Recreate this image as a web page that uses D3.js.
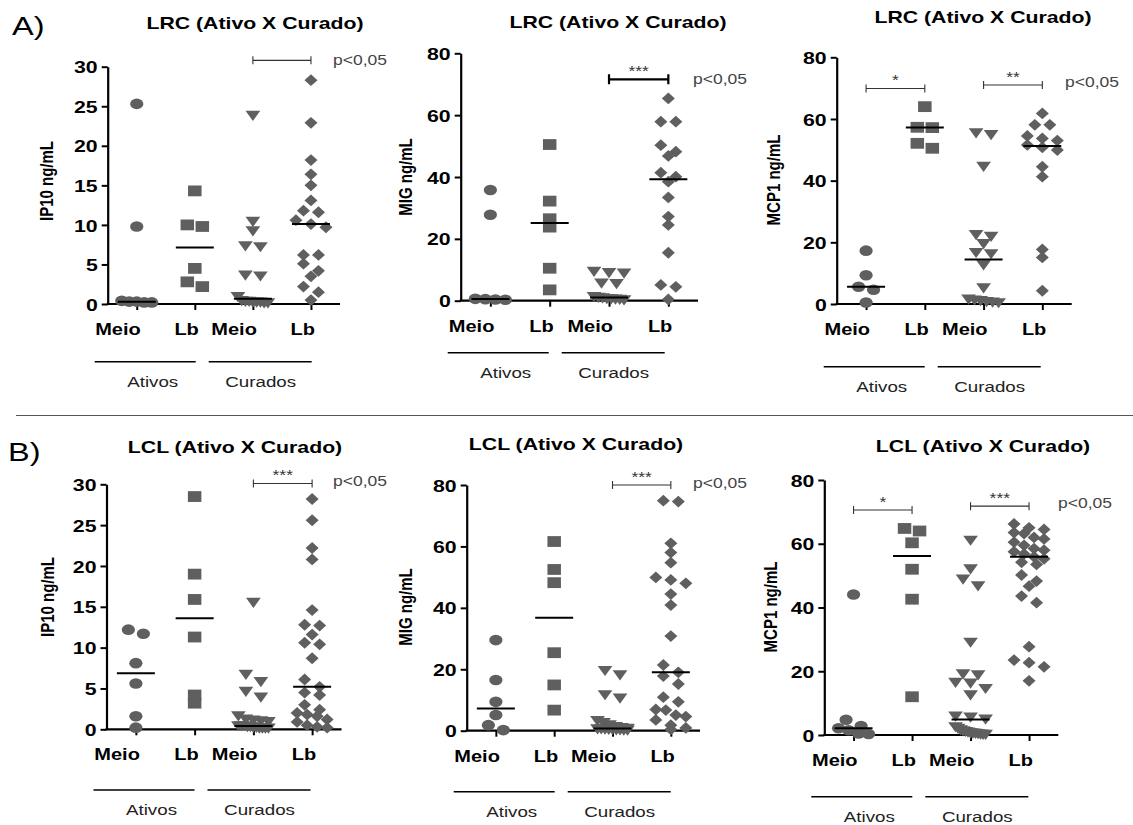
<!DOCTYPE html>
<html><head><meta charset="utf-8">
<script src="https://cdn.jsdelivr.net/npm/d3@7"></script>
<style>body{margin:0;background:#fff}svg{display:block}</style>
</head><body>
<svg id="c" width="1133" height="825"></svg>
<script>
// ---------------- DATA ----------------
const categories = ["Meio", "Lb", "Meio", "Lb"];
const groupLabels = ["Ativos", "Curados"];
const ticks30 = [0, 5, 10, 15, 20, 25, 30];
const ticks80 = [0, 20, 40, 60, 80];
const panelTitles = ["LRC (Ativo X Curado)", "LRC (Ativo X Curado)", "LRC (Ativo X Curado)",
                     "LCL (Ativo X Curado)", "LCL (Ativo X Curado)", "LCL (Ativo X Curado)"];
const yLabels = ["IP10 ng/mL", "MIG ng/mL", "MCP1 ng/mL", "IP10 ng/mL", "MIG ng/mL", "MCP1 ng/mL"];
const sectionLabels = ["A)", "B)"];
const pLabel = "p<0,05";

// each: [Meio Ativos, Lb Ativos, Meio Curados, Lb Curados]
const lrcIP10 = [
  [25.3, 9.8, 0.4, 0.3, 0.3, 0.2, 0.2],
  [14.3, 10.0, 9.8, 4.5, 2.8, 2.2],
  [23.8, 10.4, 9.2, 7.3, 7.2, 3.6, 3.5, 0.9, 0.4, 0.3, 0.3, 0.2, 0.2, 0.2, 0.1, 0.1],
  [28.3, 22.9, 18.2, 16.4, 15.0, 13.1, 11.8, 11.6, 10.6, 10.1, 9.7, 6.2, 6.2, 5.1, 4.2, 3.5, 2.2, 1.5, 0.5]
];
const lrcMIG = [
  [35.8, 27.8, 0.6, 0.5, 0.4, 0.3],
  [50.5, 32.2, 26.5, 23.8, 10.5, 3.5],
  [9.4, 9.0, 8.8, 5.6, 5.4, 1.2, 1.0, 0.8, 0.6, 0.5, 0.4, 0.3, 0.2],
  [65.4, 57.9, 57.9, 50.3, 48.2, 46.8, 41.4, 40.1, 38.5, 33.4, 27.2, 24.5, 15.5, 5.1, 4.5, 0.4]
];
const lrcMCP1 = [
  [17.3, 9.3, 5.6, 4.6, 0.5],
  [64.0, 57.3, 57.2, 52.1, 50.5],
  [55.4, 54.8, 44.5, 22.4, 21.8, 19.5, 16.6, 16.2, 12.6, 5.1, 1.5, 1.2, 1.0, 0.7, 0.5, 0.3],
  [61.8, 58.1, 58.1, 54.5, 53.7, 53.0, 51.6, 50.8, 49.9, 44.5, 41.3, 17.7, 15.1, 4.3]
];
const lclIP10 = [
  [12.2, 11.7, 8.1, 5.6, 1.6, 0.2],
  [28.5, 19.0, 15.9, 11.3, 4.2, 3.2],
  [15.5, 6.7, 5.8, 4.6, 3.9, 1.6, 1.2, 1.1, 1.0, 0.9, 0.4, 0.4, 0.4, 0.3, 0.3, 0.2, 0.2, 0.1, 0.1, 0.1, 0.1],
  [28.2, 25.6, 22.2, 20.8, 14.6, 12.8, 12.7, 11.6, 10.6, 10.4, 8.7, 6.1, 5.2, 4.5, 4.2, 3.0, 2.4, 2.0, 1.8, 1.6, 1.2, 0.9, 0.5, 0.3, 0.2]
];
const lclMIG = [
  [29.5, 16.5, 9.4, 5.1, 1.8, 0.2],
  [61.6, 52.5, 48.2, 25.4, 14.9, 6.7],
  [19.5, 18.1, 11.6, 10.5, 3.2, 2.5, 1.8, 1.2, 0.9, 0.7, 0.5, 0.5, 0.4, 0.3, 0.3, 0.2, 0.2, 0.1, 0.1],
  [74.9, 74.6, 61.0, 58.0, 54.7, 49.9, 49.1, 48.0, 44.5, 40.9, 30.8, 21.4, 19.0, 17.8, 15.2, 10.9, 9.4, 6.9, 6.7, 5.1, 4.6, 3.5, 1.8, 0.9, 0.4]
];
const lclMCP1 = [
  [44.1, 4.8, 2.8, 2.1, 1.5, 0.5, 0.3],
  [64.8, 64.0, 60.3, 52.0, 42.6, 12.0],
  [61.0, 52.0, 48.8, 46.7, 29.0, 19.1, 18.8, 16.4, 16.2, 14.5, 12.5, 5.8, 5.5, 4.9, 2.5, 2.0, 1.5, 1.2, 1.0, 0.8, 0.6, 0.5, 0.4, 0.3, 0.2, 0.1, 0.1],
  [66.2, 65.0, 64.5, 63.5, 63.2, 62.0, 61.5, 60.5, 59.5, 58.5, 58.0, 57.5, 56.8, 55.9, 55.3, 54.2, 53.5, 50.2, 48.3, 46.7, 43.6, 41.5, 27.7, 23.5, 22.7, 21.4, 17.0]
];

// significance brackets: category indices and bracket level (data units)
const sigLRC_IP10 = [{from: 2, to: 3, level: 30.8, label: ""}];
const sigLRC_MIG = [{from: 2, to: 3, level: 71.6, label: "***"}];
const sigLRC_MCP1 = [{from: 0, to: 1, level: 69.9, label: "*"}, {from: 2, to: 3, level: 71.0, label: "**"}];
const sigLCL_IP10 = [{from: 2, to: 3, level: 30.1, label: "***"}];
const sigLCL_MIG = [{from: 2, to: 3, level: 80.0, label: "***"}];
const sigLCL_MCP1 = [{from: 0, to: 1, level: 70.6, label: "*"}, {from: 2, to: 3, level: 71.8, label: "***"}];

// ---------------- LAYOUT / STYLE ----------------
const SX = 1.25; // horizontal stretch of the source figure
const FONT = "'Liberation Sans', Arial, Helvetica, sans-serif";
const MARK = "#5f5f5f";

const panels = [
  {data: lrcIP10, ticks: ticks30, max: 30, sig: sigLRC_IP10, x0: 107.7, x1: 340, yTop: 66.7, yBot: 304, tX: 255, tY: 29, lX: 46, lY: 181, pX: 333, pY: 65, gY: 361.7, heavy: false},
  {data: lrcMIG, ticks: ticks80, max: 80, sig: sigLRC_MIG, x0: 460.7, x1: 698, yTop: 53.3, yBot: 300.7, tX: 618, tY: 28, lX: 405, lY: 177, pX: 693, pY: 84, gY: 352.7, heavy: true},
  {data: lrcMCP1, ticks: ticks80, max: 80, sig: sigLRC_MCP1, x0: 836.7, x1: 1071.7, yTop: 57.3, yBot: 304, tX: 983, tY: 23, lX: 773, lY: 180, pX: 1065, pY: 87, gY: 366.7, heavy: false},
  {data: lclIP10, ticks: ticks30, max: 30, sig: sigLCL_IP10, x0: 106.5, x1: 341.5, yTop: 484.3, yBot: 729.3, tX: 235, tY: 453, lX: 47, lY: 597, pX: 333, pY: 486, gY: 790, heavy: false},
  {data: lclMIG, ticks: ticks80, max: 80, sig: sigLCL_MIG, x0: 466.7, x1: 700, yTop: 485, yBot: 730.7, tX: 576, tY: 450, lX: 405, lY: 607, pX: 693, pY: 488, gY: 791.7, heavy: false},
  {data: lclMCP1, ticks: ticks80, max: 80, sig: sigLCL_MCP1, x0: 824.3, x1: 1058.3, yTop: 480, yBot: 735, tX: 983, tY: 452, lX: 770, lY: 607, pX: 1058, pY: 508, gY: 796.7, heavy: false}
];

const svg = d3.select("#c");

function stext(g, x, y, str, o) {
  o = o || {};
  const tf = `scale(${SX},1)` + (o.rotate ? ` rotate(${o.rotate})` : "");
  const t = g.append("text")
    .attr("transform", `translate(${x},${y}) ` + tf)
    .attr("font-family", FONT)
    .attr("font-size", o.size || 14)
    .attr("font-weight", o.bold ? "bold" : "normal")
    .attr("fill", o.fill || "#000")
    .attr("text-anchor", o.anchor || "start")
    .text(str);
  if (o.dy) t.attr("dy", o.dy);
  return t;
}

const shapes = [d3.path(), d3.path(), d3.path(), d3.path()];
shapes[0].arc(0, 0, 5.3, 0, 2 * Math.PI);
shapes[1].rect(-5.4, -5.4, 10.8, 10.8);
shapes[2].moveTo(-5.9, -4.9); shapes[2].lineTo(5.9, -4.9); shapes[2].lineTo(0, 5.3); shapes[2].closePath();
shapes[3].moveTo(0, -5.9); shapes[3].lineTo(5.2, 0); shapes[3].lineTo(0, 5.9); shapes[3].lineTo(-5.2, 0); shapes[3].closePath();

function swarm(values, y) {
  const sorted = values.slice().sort((a, b) => b - a);
  const out = [];
  let row = [];
  const flush = () => {
    const n = row.length;
    const s = n > 1 ? Math.min(15, 30 / (n - 1)) : 0;
    row.forEach((v, i) => out.push({v: v, dx: (i - (n - 1) / 2) * s}));
    row = [];
  };
  sorted.forEach(v => {
    if (row.length && (y(v) - y(row[0])) >= 8) flush();
    row.push(v);
  });
  if (row.length) flush();
  return out;
}

// section labels & separator
stext(svg, 12, 35, sectionLabels[0], {size: 26});
stext(svg, 8, 461, sectionLabels[1], {size: 26});
svg.append("line").attr("x1", 16).attr("x2", 1133).attr("y1", 415.5).attr("y2", 415.5)
  .attr("stroke", "#555").attr("stroke-width", 1.2);

panels.forEach((p, pi) => {
  const g = svg.append("g");
  const x = d3.scalePoint().domain(d3.range(categories.length)).range([p.x0, p.x1]).padding(0.5);
  const y = d3.scaleLinear().domain([0, p.max]).range([p.yBot, p.yTop]);

  stext(g, p.tX, p.tY, panelTitles[pi], {size: 17, bold: true, anchor: "middle"});
  stext(g, p.lX, p.lY, yLabels[pi], {size: 15, bold: true, anchor: "middle", rotate: -90, dy: "0.35em"});

  // y axis
  const ya = g.append("g").attr("transform", `translate(${p.x0},0)`)
    .call(d3.axisLeft(y).tickValues(p.ticks).tickSize(6).tickSizeOuter(0));
  ya.select(".domain").attr("stroke", "#000").attr("stroke-width", 2.2);
  ya.selectAll(".tick line").attr("stroke", "#000").attr("stroke-width", 2);
  ya.selectAll(".tick text").attr("x", null).attr("dy", "0.36em")
    .attr("transform", `translate(-10,0) scale(${SX},1)`)
    .attr("font-family", FONT).attr("font-size", 17).attr("font-weight", "bold").attr("fill", "#000");

  // x axis
  const xa = g.append("g").attr("transform", `translate(0,${p.yBot})`)
    .call(d3.axisBottom(x).tickSize(6).tickSizeOuter(0).tickFormat(""));
  xa.select(".domain").attr("stroke", "#000").attr("stroke-width", 2.2).attr("d", `M${p.x0 - 1},0H${p.x1}`);
  xa.selectAll(".tick line").attr("stroke", "#000").attr("stroke-width", 2);
  categories.forEach((c, i) => stext(g, x(i) + 4, p.yBot + 31, c, {size: 16, bold: true, anchor: "end"}));

  // groups
  const gr = [[p.x0 - 13, p.x0 + 88, p.x0 + 45], [p.x0 + 101, p.x0 + 204, p.x0 + 153]];
  gr.forEach((r, k) => {
    g.append("line").attr("x1", r[0]).attr("x2", r[1]).attr("y1", p.gY).attr("y2", p.gY)
      .attr("stroke", "#000").attr("stroke-width", 1.6);
    stext(g, r[2], p.gY + 25, groupLabels[k], {size: 15, anchor: "middle", fill: "#222"});
  });

  // points + medians
  p.data.forEach((vals, ci) => {
    const cx = x(ci);
    g.append("g").selectAll("path").data(swarm(vals, y)).join("path")
      .attr("d", shapes[ci].toString())
      .attr("transform", d => `translate(${cx + d.dx},${y(d.v)}) scale(${SX},1)`)
      .attr("fill", MARK);
    const med = d3.median(vals);
    g.append("line").attr("x1", cx - 19).attr("x2", cx + 19).attr("y1", y(med)).attr("y2", y(med))
      .attr("stroke", "#000").attr("stroke-width", 2);
  });

  // significance brackets
  p.sig.forEach(s => {
    const yy = y(s.level), xa0 = x(s.from), xa1 = x(s.to);
    const col = p.heavy ? "#000" : "#333";
    const w = p.heavy ? 2.2 : 1.1;
    const h = p.heavy ? 5 : 4;
    g.append("path").attr("d", `M${xa0},${yy - h}V${yy + h}M${xa0},${yy}H${xa1}M${xa1},${yy - h}V${yy + h}`)
      .attr("fill", "none").attr("stroke", col).attr("stroke-width", w);
    if (s.label) stext(g, (xa0 + xa1) / 2, yy - 3, s.label, {size: 14, anchor: "middle", fill: "#333"});
  });

  stext(g, p.pX, p.pY, pLabel, {size: 14, fill: "#444"});
});
</script>
</body></html>
